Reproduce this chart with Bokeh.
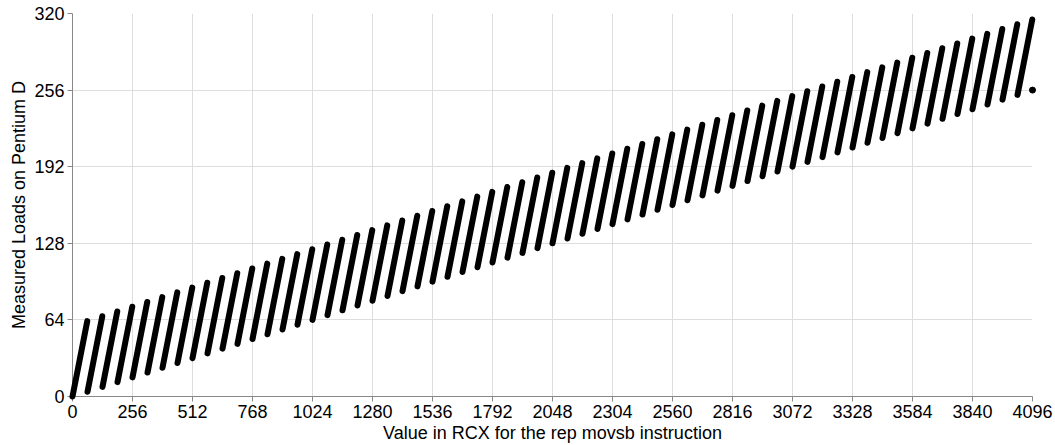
from bokeh.plotting import figure
from bokeh.models import FixedTicker, Range1d
from bokeh.embed import file_html
from bokeh.resources import INLINE

# Each stroke: a run of consecutive RCX values (64 per run)
stroke_x_start = [0, 64, 128, 192, 256, 320, 384, 448, 512, 576, 640, 704, 768, 832, 896, 960,
                  1024, 1088, 1152, 1216, 1280, 1344, 1408, 1472, 1536, 1600, 1664, 1728, 1792, 1856, 1920, 1984,
                  2048, 2112, 2176, 2240, 2304, 2368, 2432, 2496, 2560, 2624, 2688, 2752, 2816, 2880, 2944, 3008,
                  3072, 3136, 3200, 3264, 3328, 3392, 3456, 3520, 3584, 3648, 3712, 3776, 3840, 3904, 3968, 4032]
stroke_x_end = [63, 127, 191, 255, 319, 383, 447, 511, 575, 639, 703, 767, 831, 895, 959, 1023,
                1087, 1151, 1215, 1279, 1343, 1407, 1471, 1535, 1599, 1663, 1727, 1791, 1855, 1919, 1983, 2047,
                2111, 2175, 2239, 2303, 2367, 2431, 2495, 2559, 2623, 2687, 2751, 2815, 2879, 2943, 3007, 3071,
                3135, 3199, 3263, 3327, 3391, 3455, 3519, 3583, 3647, 3711, 3775, 3839, 3903, 3967, 4031, 4095]
stroke_y_low = [0, 4, 8, 12, 16, 20, 24, 28, 32, 36, 40, 44, 48, 52, 56, 60,
                64, 68, 72, 76, 80, 84, 88, 92, 96, 100, 104, 108, 112, 116, 120, 124,
                128, 132, 136, 140, 144, 148, 152, 156, 160, 164, 168, 172, 176, 180, 184, 188,
                192, 196, 200, 204, 208, 212, 216, 220, 224, 228, 232, 236, 240, 244, 248, 252]
stroke_y_high = [63, 67, 71, 75, 79, 83, 87, 91, 95, 99, 103, 107, 111, 115, 119, 123,
                 127, 131, 135, 139, 143, 147, 151, 155, 159, 163, 167, 171, 175, 179, 183, 187,
                 191, 195, 199, 203, 207, 211, 215, 219, 223, 227, 231, 235, 239, 243, 247, 251,
                 255, 259, 263, 267, 271, 275, 279, 283, 287, 291, 295, 299, 303, 307, 311, 315]
last_x = [4096]
last_y = [256]

x_ticks = [0, 256, 512, 768, 1024, 1280, 1536, 1792, 2048, 2304, 2560, 2816, 3072, 3328, 3584, 3840, 4096]
y_ticks = [0, 64, 128, 192, 256, 320]

FONT = "Liberation Sans"

p = figure(width=1055, height=445, output_backend="svg", toolbar_location=None,
           x_range=Range1d(0, 4096), y_range=Range1d(0, 320),
           min_border_left=72, min_border_right=23, min_border_top=13, min_border_bottom=48)

r1 = p.segment(x0=stroke_x_start, y0=stroke_y_low, x1=stroke_x_end, y1=stroke_y_high,
               line_width=6, line_cap="round", line_color="black", level="overlay")
r2 = p.scatter(x=last_x, y=last_y, size=6, color="black", level="overlay")

p.outline_line_color = None
p.xaxis.ticker = FixedTicker(ticks=x_ticks)
p.yaxis.ticker = FixedTicker(ticks=y_ticks)
p.xaxis.axis_label = "Value in RCX for the rep movsb instruction"
p.yaxis.axis_label = "Measured Loads on Pentium D"
for ax in (p.xaxis[0], p.yaxis[0]):
    ax.axis_line_color = "#888888"
    ax.major_tick_line_color = "#888888"
    ax.major_tick_out = 5
    ax.major_tick_in = 0
    ax.minor_tick_line_color = None
    ax.major_label_text_font = FONT
    ax.major_label_text_font_size = "18px"
    ax.major_label_text_color = "black"
    ax.axis_label_text_font = FONT
    ax.axis_label_text_font_size = "18px"
    ax.axis_label_text_font_style = "normal"
    ax.axis_label_text_color = "black"
    ax.major_label_standoff = 3
    ax.axis_label_standoff = 2
p.xgrid.grid_line_color = "#dddddd"
p.ygrid.grid_line_color = "#dddddd"

open("out.html", "w").write(file_html(p, INLINE))
